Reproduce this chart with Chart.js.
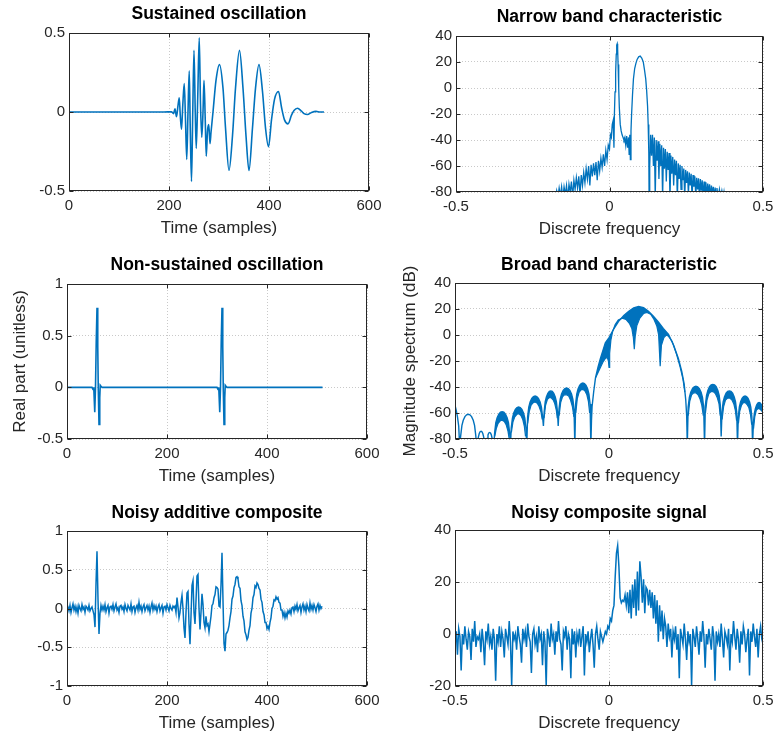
<!DOCTYPE html>
<html><head><meta charset="utf-8">
<script src="https://cdn.jsdelivr.net/npm/chart.js@4.4.0/dist/chart.umd.min.js"></script>
<style>
html,body{margin:0;padding:0;background:#fff;width:779px;height:737px;overflow:hidden;position:relative}
canvas{position:absolute}
</style></head><body>
<canvas id="c1"></canvas><canvas id="c2"></canvas><canvas id="c3"></canvas>
<canvas id="c4"></canvas><canvas id="c5"></canvas><canvas id="c6"></canvas>
<script>
// ---------------- DATA ----------------
const titles = ["Sustained oscillation","Narrow band characteristic","Non-sustained oscillation","Broad band characteristic","Noisy additive composite","Noisy composite signal"];
const timeLabel = "Time (samples)";
const freqLabel = "Discrete frequency";
const realLabel = "Real part (unitless)";
const magLabel = "Magnitude spectrum (dB)";

// Sustained oscillation: [sample, value]
const sustained = [[0,0],[190,0],[205,0.002],[209,-0.01],[212,0.02],[215,-0.03],[218,0.04],[220.5,0.09],[222.5,-0.02],[225,-0.11],[227.5,0.04],[230.5,0.18],[233,-0.05],[235.5,-0.3],[238,0.0],[240.5,0.26],[242.5,-0.1],[245,-0.44],[247.5,0],[250,0.39],[252.5,0],[254.5,-0.23],[257.5,0.1],[260.5,0.47],[263,0.05],[265.5,-0.16],[268,0],[270,0.2],[272.5,-0.05],[274.5,-0.28],[277,-0.12],[279.5,-0.08],[282,-0.2],[284,-0.13],[288,0],[294,0.2],[301,0.3],[308,0.15],[313,-0.1],[320,-0.37],[327,-0.15],[333,0.15],[341,0.39],[348,0.15],[354,-0.15],[360,-0.37],[367,-0.1],[373,0.15],[380,0.3],[387,0.13],[393,-0.1],[399,-0.22],[405,-0.05],[411,0.08],[419,0.13],[425,0.03],[431,-0.05],[438,-0.075],[445,-0.02],[450,0.01],[457,0.024],[465,0.005],[470,-0.01],[477,-0.016],[485,-0.003],[494,0.004],[502,0],[510,0]];

// Non-sustained oscillation: [sample, value]
const nonSustained = [[0,0],[50,0],[52,-0.02],[53.5,0],[55.5,-0.24],[57,0],[58.5,0.45],[60,0.77],[61.5,0.4],[62.5,0],[64,-0.36],[65.5,-0.1],[66.5,0.02],[68,0.01],[70,0],[300,0],[302,-0.02],[303.5,0],[305.5,-0.24],[307,0],[308.5,0.45],[310,0.77],[311.5,0.4],[312.5,0],[314,-0.36],[315.5,-0.1],[316.5,0.02],[318,0.01],[320,0],[511,0]];

// Noisy additive composite: one value every 2 samples, starting at sample 0
const noisyStep = 2;
const noisyValues = [
0.05,0.02,-0.03,0.04,-0.05,0.01,0.06,-0.02,0.03,-0.04,0.02,-0.06,0.04,0.00,-0.03,0.05,-0.01,0.02,-0.05,0.03,0.01,-0.02,0.04,-0.03,0.00,
0.02,-0.03,-0.08,-0.24,0.32,0.74,0.12,-0.33,-0.06,0.04,-0.02,
0.03,-0.02,0.05,-0.04,0.01,0.04,-0.06,0.02,0.03,-0.01,0.05,-0.03,
0.02,0.06,-0.02,0.01,-0.05,0.03,0.04,-0.01,0.02,-0.04,0.05,0.0,
-0.03,0.04,0.01,-0.02,0.06,-0.04,0.02,0.03,-0.05,0.01,0.04,-0.02,
0.08,-0.01,0.03,-0.04,0.02,0.05,-0.03,0.01,0.04,-0.02,0.03,-0.05,
0.02,0.07,-0.02,0.04,-0.01,0.03,-0.04,0.02,0.05,-0.03,0.01,0.04,
-0.06,0.02,0.03,-0.02,0.05,0.01,-0.03,0.04,0.0,-0.02,0.03,0.01,
0.03,-0.05,0.14,0.02,-0.12,-0.05,0.08,0.17,0.0,-0.25,
-0.38,-0.05,0.2,0.22,-0.2,-0.46,-0.1,0.3,0.36,-0.05,
-0.2,0.1,0.42,0.44,0.0,-0.27,-0.05,0.19,0.05,-0.18,
-0.25,-0.1,-0.22,-0.2,-0.3,-0.2,-0.1,0.04,0.06,0.14,
0.18,0.28,0.27,0.25,0.03,0.02,0.3,0.72,0.1,-0.45,
-0.55,-0.33,-0.31,-0.28,-0.22,-0.12,-0.04,0.12,0.16,0.27,
0.31,0.4,0.41,0.38,0.28,0.26,0.1,0.04,-0.1,-0.16,
-0.3,-0.34,-0.4,-0.37,-0.28,-0.22,-0.06,0.0,0.14,0.18,
0.29,0.27,0.33,0.31,0.26,0.24,0.12,0.08,-0.04,-0.08,
-0.18,-0.18,-0.26,-0.23,-0.27,-0.18,-0.12,0.0,0.03,0.11,
0.1,0.15,0.12,0.14,0.08,0.07,-0.02,-0.02,-0.1,-0.05,
-0.12,-0.06,-0.11,-0.03,-0.06,-0.02,-0.07,0.01,
0.02,-0.04,0.03,-0.01,0.05,-0.03,0.01,0.04,-0.05,0.02,
0.06,-0.02,0.03,-0.04,0.05,0.0,-0.03,0.07,-0.01,0.04,
-0.02,0.05,0.01,-0.04,0.03,0.06,-0.02,0.04,0.0,0.03];

// Narrow band characteristic: [frequency, dB]
const narrowBand = [[-0.176,-85],[-0.172,-79],[-0.168,-84],[-0.164,-77],[-0.160,-83],[-0.156,-76],[-0.152,-85],[-0.148,-76],[-0.144,-82],[-0.140,-75],[-0.136,-85],[-0.132,-74],[-0.128,-80],[-0.124,-72],[-0.120,-84],[-0.116,-71],[-0.112,-78],[-0.108,-69],[-0.104,-77],[-0.100,-68],[-0.096,-82],[-0.092,-67],[-0.088,-75],[-0.084,-65],[-0.080,-73],[-0.076,-62],[-0.072,-70],[-0.068,-60],[-0.064,-75],[-0.060,-59],[-0.056,-68],[-0.052,-58],[-0.048,-67],[-0.044,-57],[-0.040,-71],[-0.036,-56],[-0.032,-64],[-0.028,-54],[-0.024,-61],[-0.020,-51],[-0.016,-60],[-0.012,-48],[-0.008,-55],[-0.004,-44],[0.0,-47],[0.003,-36],[0.006,-38],[0.009,-28],[0.012,-25],[0.0145,-46],[0.016,-20],[0.018,-3],[0.020,12],[0.022,26],[0.0235,33],[0.025,34],[0.0265,30],[0.028,18],[0.030,0],[0.032,-15],[0.035,-28],[0.038,-33],[0.041,-36],[0.044,-38],[0.047,-40],[0.050,-38],[0.053,-44],[0.056,-37],[0.059,-46],[0.062,-38],[0.064,-51],[0.066,-36],[0.068,-55],[0.070,-33],[0.072,-20],[0.075,-5],[0.078,7],[0.082,15],[0.086,19],[0.090,22],[0.095,24],[0.100,24.5],[0.105,23],[0.110,20],[0.114,14],[0.118,7],[0.121,-2],[0.124,-14],[0.126,-28],[0.128,-50],[0.129,-85],
[0.131,-60],[0.134,-36],[0.137,-52],[0.140,-36],[0.143,-60],[0.146,-38],[0.149,-85],[0.152,-40],[0.155,-56],[0.158,-41],[0.161,-70],[0.164,-43],[0.167,-60],[0.170,-44],[0.173,-85],[0.176,-46],[0.179,-62],[0.182,-47],[0.185,-72],[0.188,-49],[0.191,-63],[0.194,-50],[0.197,-85],[0.200,-52],[0.203,-66],[0.206,-53],[0.209,-75],[0.212,-55],[0.215,-67],[0.218,-56],[0.221,-85],[0.224,-58],[0.227,-70],[0.230,-59],[0.233,-78],[0.236,-60],[0.239,-71],[0.242,-62],[0.245,-85],[0.248,-63],[0.251,-73],[0.254,-64],[0.257,-82],[0.260,-65],[0.263,-75],[0.266,-66],[0.269,-85],[0.272,-67],[0.275,-76],[0.278,-68],[0.281,-84],[0.284,-69],[0.287,-78],[0.290,-69.5],[0.293,-85],[0.296,-70],[0.299,-79],[0.302,-71],[0.305,-85],[0.308,-72],[0.311,-80],[0.314,-72.5],[0.317,-85],[0.320,-73.5],[0.323,-81],[0.326,-74],[0.329,-85],[0.332,-75],[0.335,-82],[0.338,-76],[0.341,-85],[0.344,-76.5],[0.347,-83],[0.350,-77],[0.354,-85],[0.358,-78],[0.362,-84],[0.366,-79],[0.370,-85],[0.373,-80],[0.376,-86]];

// Broad band characteristic, outer envelope: [frequency, dB]
const broadOuter = [[-0.5,-54],[-0.496,-58],[-0.492,-63],[-0.488,-70],[-0.485,-85],
[-0.4813,-77],[-0.4775,-69.5],[-0.4732,-65.6],[-0.4678,-62.8],[-0.4624,-61.4],[-0.457,-61],[-0.4516,-61.4],[-0.4462,-62.8],[-0.4408,-65.6],[-0.4365,-69.5],[-0.4327,-77],[-0.430,-85],
[-0.4265,-82.5],[-0.4242,-78.6],[-0.4213,-75.8],[-0.4184,-74.4],[-0.4155,-74],[-0.4126,-74.4],[-0.4097,-75.8],[-0.4068,-78.6],[-0.4045,-82.5],[-0.401,-85],
[-0.3978,-83.5],[-0.3956,-79.6],[-0.3929,-76.8],[-0.3902,-75.4],[-0.3875,-75],[-0.3848,-75.4],[-0.3821,-76.8],[-0.3794,-79.6],[-0.3772,-83.5],[-0.374,-85],
[-0.3713,-75],[-0.3675,-67.5],[-0.3632,-63.6],[-0.3578,-60.8],[-0.3524,-59.4],[-0.347,-59],[-0.3416,-59.4],[-0.3362,-60.8],[-0.3308,-63.6],[-0.3265,-67.5],[-0.3227,-75],[-0.320,-85],
[-0.3174,-71.4],[-0.3136,-63.9],[-0.3094,-60],[-0.3041,-57.2],[-0.2988,-55.8],[-0.2935,-55.4],[-0.2882,-55.8],[-0.2829,-57.2],[-0.2776,-60],[-0.2734,-63.9],[-0.2697,-71.4],[-0.267,-85],
[-0.2643,-63],[-0.2605,-55.5],[-0.2562,-51.6],[-0.2508,-48.8],[-0.2454,-47.4],[-0.240,-47],[-0.2346,-47.4],[-0.2292,-48.8],[-0.2238,-51.6],[-0.2195,-55.5],[-0.2157,-63],[-0.213,-70],
[-0.2106,-59],[-0.2072,-51.5],[-0.2034,-47.6],[-0.1986,-44.8],[-0.1938,-43.4],[-0.189,-43],[-0.1842,-43.4],[-0.1794,-44.8],[-0.1746,-47.6],[-0.1708,-51.5],[-0.1674,-59],[-0.165,-70],
[-0.1623,-56.8],[-0.1585,-49.3],[-0.1542,-45.4],[-0.1488,-42.6],[-0.1434,-41.2],[-0.138,-40.8],[-0.1326,-41.2],[-0.1272,-42.6],[-0.1218,-45.4],[-0.1175,-49.3],[-0.1137,-56.8],[-0.111,-85],
[-0.1084,-53],[-0.1048,-45.5],[-0.1006,-41.6],[-0.0954,-38.8],[-0.0902,-37.4],[-0.085,-37],[-0.0798,-37.4],[-0.0746,-38.8],[-0.0694,-41.6],[-0.0652,-45.5],[-0.0616,-53],[-0.059,-85],
[-0.057,-66],[-0.055,-55],[-0.050,-44],[-0.044,-33],[-0.036,-25],[-0.028,-18],[-0.020,-12],[-0.012,-6],[0.0,-2],[0.015,4.5],[0.031,10.5],[0.048,15],[0.064,18.2],[0.080,20.8],[0.096,22],[0.112,21],[0.128,18.2],[0.144,14.5],[0.160,10],[0.176,5],[0.193,0.5],[0.210,-8],[0.225,-18],[0.236,-28],[0.244,-38],[0.249,-50],[0.252,-62],[0.254,-85],
[0.2568,-55.5],[0.2607,-48],[0.2652,-44.1],[0.2708,-41.3],[0.2764,-39.9],[0.282,-39.5],[0.2876,-39.9],[0.2932,-41.3],[0.2988,-44.1],[0.3033,-48],[0.3072,-55.5],[0.310,-85],
[0.3127,-54],[0.3165,-46.5],[0.3208,-42.6],[0.3262,-39.8],[0.3316,-38.4],[0.337,-38],[0.3424,-38.4],[0.3478,-39.8],[0.3532,-42.6],[0.3575,-46.5],[0.3613,-54],[0.364,-78],
[0.3667,-59],[0.3704,-51.5],[0.3746,-47.6],[0.3799,-44.8],[0.3852,-43.4],[0.3905,-43],[0.3958,-43.4],[0.4011,-44.8],[0.4064,-47.6],[0.4106,-51.5],[0.4144,-59],[0.417,-85],
[0.4195,-63],[0.4229,-55.5],[0.4268,-51.6],[0.4317,-48.8],[0.4366,-47.4],[0.4415,-47],[0.4464,-47.4],[0.4513,-48.8],[0.4562,-51.6],[0.4601,-55.5],[0.4636,-63],[0.466,-85],
[0.4685,-68],[0.4715,-60.5],[0.475,-56.6],[0.479,-53.8],[0.483,-52.4],[0.487,-52],[0.491,-52.4],[0.495,-53.8],[0.5,-56]];

// Broad band characteristic, inner edge of the dense ripple band (null = no band)
const broadInner = [
[-0.371,-78],[-0.366,-72],[-0.360,-68],[-0.353,-66],[-0.347,-65.5],[-0.340,-66.5],[-0.334,-69],[-0.328,-74],[-0.324,-80],[-0.322,null],
[-0.317,-75],[-0.312,-67],[-0.306,-63],[-0.299,-61],[-0.293,-60.5],[-0.286,-62],[-0.280,-65],[-0.275,-70],[-0.271,-78],[-0.268,null],
[-0.264,-68],[-0.259,-59],[-0.253,-54],[-0.246,-52],[-0.240,-51.5],[-0.233,-52.5],[-0.227,-55],[-0.221,-59],[-0.217,-65],[-0.214,null],
[-0.211,-64],[-0.206,-54],[-0.200,-49.5],[-0.193,-48],[-0.187,-48.5],[-0.181,-50],[-0.176,-53],[-0.171,-58],[-0.168,-64],[-0.166,null],
[-0.162,-62],[-0.157,-52],[-0.151,-47.5],[-0.145,-46],[-0.138,-46],[-0.131,-47],[-0.125,-50],[-0.119,-55],[-0.114,-63],[-0.112,null],
[-0.108,-60],[-0.103,-49],[-0.097,-44],[-0.090,-42],[-0.084,-42],[-0.078,-43],[-0.072,-46],[-0.067,-51],[-0.063,-60],[-0.061,null],
[-0.044,-33],[-0.036,-29],[-0.028,-25],[-0.020,-21],[-0.012,-18],[-0.006,-17],[-0.002,-20],[0.0,-25],[0.002,-14],[0.006,-4],[0.012,3],[0.020,8],[0.030,11.5],[0.043,13],[0.055,12],[0.066,9],[0.074,5],[0.079,-2],[0.082,-11],[0.085,-1],[0.090,7],[0.100,13],[0.112,16.5],[0.123,17.4],[0.135,16],[0.146,12],[0.155,7],[0.161,0],[0.166,-24],[0.170,-8],[0.178,-2],[0.186,0],[0.193,-1],[0.205,-5],[0.218,-14],[0.230,-24],[0.240,-34],[0.246,-44],[0.250,null],
[0.257,-62],[0.262,-51],[0.268,-46],[0.275,-44.5],[0.282,-44.5],[0.289,-46],[0.295,-49],[0.301,-54],[0.306,-62],[0.308,null],
[0.313,-60],[0.318,-50],[0.324,-45],[0.331,-43.5],[0.338,-43.5],[0.345,-45],[0.351,-48],[0.357,-53],[0.361,-62],[0.363,null],
[0.367,-65],[0.372,-55],[0.378,-50],[0.385,-48.5],[0.392,-48.5],[0.399,-50],[0.405,-53],[0.410,-58],[0.414,-66],[0.416,null],
[0.420,-68],[0.424,-59],[0.430,-54],[0.436,-52],[0.442,-52],[0.448,-53.5],[0.454,-56],[0.459,-61],[0.463,-69],[0.465,null],
[0.469,-72],[0.473,-63],[0.478,-58],[0.484,-56.5],[0.490,-57],[0.496,-58.5],[0.5,-60]];

// Noisy composite signal: one dB value every 0.004 starting at -0.5
const compStart = -0.5, compStep = 0.004;
const compositeDb = [
-3,1,-8,2,-1,-14,0,-4,3,-2,-6,1,-1,-10,2,-3,5,-5,-1,-2,
0,-7,2,-3,-12,1,-2,4,-4,-1,-6,2,-2,-18,0,-3,3,-5,1,-2,
-9,2,-1,-4,5,-3,-20,1,-2,0,-6,3,-1,-4,-11,2,-2,1,-5,4,
-1,-3,-15,0,2,-4,-1,-7,3,-2,0,-12,1,-3,-20,2,-1,-5,4,-2,
0,-8,1,-3,5,-2,-4,-14,1,-1,3,-6,0,-2,-17,2,-4,1,-9,0,
-3,2,-5,-1,3,-16,0,-3,1,-7,-2,2,-4,-13,0,3,-2,-6,1,-1,
-3,
-1,1,0,3,2,6,5,9,11,22,31,34,26,14,12,13,12.5,15,11,16,8,17,6,19,10,21,7,24,9,28,22,12,21,8,18,17,11,17,10,16,6,15,4,13,-3,11,1,9,-2,6,3,-5,4,-1,2,-9,1,
-2,3,-6,0,-17,2,-1,-4,4,-2,-10,1,-3,0,-20,2,-1,-5,3,-2,
-8,1,-3,5,-1,-13,0,-4,2,-2,-6,3,-1,-18,1,-3,0,-5,4,-2,
-9,1,-1,-4,2,-14,0,-3,5,-1,-6,2,-2,-11,1,-4,3,0,-7,-2,
2,-16,1,-3,4,-1,-5,2,-9,0,3,-2,-4];

// axis tick definitions
const timeTicks = {min:0, max:600, step:200};
const freqTicks = {min:-0.5, max:0.5, step:0.5};
const yTicksTL = {min:-0.5, max:0.5, step:0.5};
const yTicksML = {min:-0.5, max:1, step:0.5};
const yTicksBL = {min:-1, max:1, step:0.5};
const yTicksDb = {min:-80, max:40, step:20};
const yTicksComp = {min:-20, max:40, step:20};

// ---------------- RENDERING ----------------
const FONT = "'Liberation Sans', Arial, Helvetica, sans-serif";
const LINE = '#0072bd', AXIS = '#262626', GRID = '#c9c9c9';
const fmt = v => String(Number(Number(v).toFixed(3)));

const boxPlugin = {
  id: 'matlabBox',
  afterDatasetsDraw(chart) {
    const {ctx, chartArea: a, scales} = chart;
    const L = Math.round(a.left) + 0.5, R = Math.round(a.right) - 0.5;
    const T = Math.round(a.top) + 0.5, B = Math.round(a.bottom) - 0.5;
    const tl = 4;
    ctx.save();
    ctx.setLineDash([]);
    ctx.strokeStyle = AXIS; ctx.lineWidth = 1;
    ctx.beginPath();
    scales.x.ticks.forEach(t => {
      const p = Math.round(scales.x.getPixelForValue(t.value)) + 0.5;
      ctx.moveTo(p, B); ctx.lineTo(p, B - tl);
      ctx.moveTo(p, T); ctx.lineTo(p, T + tl);
    });
    scales.y.ticks.forEach(t => {
      const p = Math.round(scales.y.getPixelForValue(t.value)) + 0.5;
      ctx.moveTo(L, p); ctx.lineTo(L + tl, p);
      ctx.moveTo(R, p); ctx.lineTo(R - tl, p);
    });
    ctx.stroke();
    ctx.strokeRect(L, T, R - L, B - T);
    ctx.restore();
  }
};

function toXY(pairs) { return pairs.map(p => ({x: p[0], y: p[1]})); }

function lineSet(points, extra) {
  return Object.assign({
    data: points, borderColor: LINE, backgroundColor: LINE, borderWidth: 1.6, pointRadius: 0,
    pointHoverRadius: 0, fill: false, tension: 0
  }, extra || {});
}

function makePlot(id, c) {
  const cv = document.getElementById(id);
  cv.width = c.w; cv.height = c.h;
  cv.style.left = c.left + 'px'; cv.style.top = c.top + 'px';
  cv.style.width = c.w + 'px'; cv.style.height = c.h + 'px';
  new Chart(cv, {
    type: 'line',
    data: { datasets: c.datasets },
    plugins: [boxPlugin],
    options: {
      responsive: false, animation: false, events: [],
      layout: { padding: { left: 0, top: 0, right: c.padRight, bottom: 0 } },
      plugins: {
        legend: { display: false }, tooltip: { enabled: false },
        filler: { propagate: false },
        title: { display: true, text: c.title, color: '#000', fullSize: false,
          font: { family: FONT, size: 17.5, weight: 'bold' },
          padding: { top: c.tPadTop, bottom: c.tPadBottom } }
      },
      scales: {
        x: {
          type: 'linear', min: c.xt.min, max: c.xt.max,
          ticks: { stepSize: c.xt.step, color: AXIS, font: { family: FONT, size: 15 }, padding: 5.5, maxRotation: 0, autoSkip: false, callback: fmt },
          grid: { color: GRID, drawTicks: false, lineWidth: 1, borderDash: [1, 2] },
          border: { display: false, dash: [1, 2] },
          title: { display: true, text: c.xTitle, color: AXIS, font: { family: FONT, size: 17 }, padding: { top: 0, bottom: 2.8 } },
          afterFit: s => { s.height = 50; }
        },
        y: {
          type: 'linear', min: c.yt.min, max: c.yt.max,
          ticks: { stepSize: c.yt.step, color: AXIS, font: { family: FONT, size: 15 }, padding: 4, callback: fmt },
          grid: { color: GRID, drawTicks: false, lineWidth: 1, borderDash: [1, 2] },
          border: { display: false, dash: [1, 2] },
          title: { display: !!c.yTitle, text: c.yTitle || '', color: AXIS, font: { family: FONT, size: 17 }, padding: { top: c.yPad || 0, bottom: 0 } },
          afterFit: s => { s.width = c.yw; }
        }
      }
    }
  });
}

const noisyPoints = noisyValues.map((v, i) => ({x: i * noisyStep, y: v}));
const compPoints = compositeDb.map((v, i) => ({x: compStart + i * compStep, y: v}));

// left column
makePlot('c1', {left:0, top:0, w:390, h:241, yw:69, padRight:21, tPadTop:3.5, tPadBottom:8.5,
  title:titles[0], xTitle:timeLabel, xt:timeTicks, yt:yTicksTL,
  datasets:[lineSet(toXY(sustained), {cubicInterpolationMode:'monotone'})]});
makePlot('c3', {left:0, top:250, w:390, h:239, yw:67, padRight:23, tPadTop:4.5, tPadBottom:8.5,
  title:titles[2], xTitle:timeLabel, yTitle:realLabel, yPad:9.8, xt:timeTicks, yt:yTicksML,
  datasets:[lineSet(toXY(nonSustained))]});
makePlot('c5', {left:0, top:498, w:390, h:238, yw:67, padRight:23, tPadTop:4.5, tPadBottom:7.5,
  title:titles[4], xTitle:timeLabel, xt:timeTicks, yt:yTicksBL,
  datasets:[lineSet(noisyPoints, {borderWidth:1.5})]});
// right column
makePlot('c2', {left:392, top:0, w:387, h:242, yw:64, padRight:16, tPadTop:6.5, tPadBottom:8.5,
  title:titles[1], xTitle:freqLabel, xt:freqTicks, yt:yTicksDb,
  datasets:[lineSet(toXY(narrowBand), {borderWidth:1.3})]});
makePlot('c4', {left:392, top:250, w:387, h:239, yw:63, padRight:14, tPadTop:4.5, tPadBottom:7.5,
  title:titles[3], xTitle:freqLabel, yTitle:magLabel, yPad:7.8, xt:freqTicks, yt:yTicksDb,
  datasets:[lineSet(toXY(broadOuter), {borderWidth:1.4}),
            lineSet(toXY(broadInner), {borderWidth:1.2, fill:0, spanGaps:false})]});
makePlot('c6', {left:392, top:498, w:387, h:238, yw:63, padRight:13, tPadTop:4.5, tPadBottom:6.5,
  title:titles[5], xTitle:freqLabel, xt:freqTicks, yt:yTicksComp,
  datasets:[lineSet(compPoints, {borderWidth:1.5})]});
</script>
</body></html>
